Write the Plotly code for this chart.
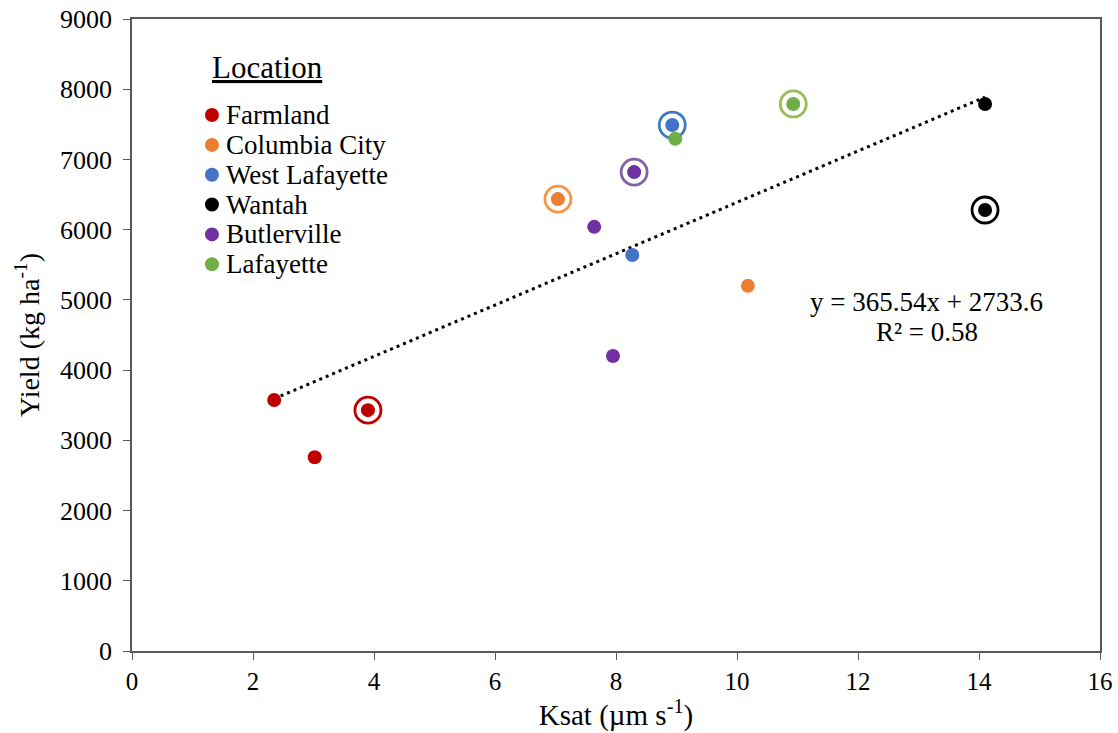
import plotly.graph_objects as go

# Ksat (µm s-1) and yield (kg ha-1) by location
locations = ["Farmland", "Columbia City", "West Lafayette", "Wantah", "Butlerville", "Lafayette"]
ksat = {
    "Farmland": [2.35, 3.02, 3.90],
    "Columbia City": [7.04, 10.18],
    "West Lafayette": [8.93, 8.27],
    "Wantah": [14.10, 14.10],
    "Butlerville": [8.30, 7.64, 7.95],
    "Lafayette": [10.93, 8.98],
}
yield_kg = {
    "Farmland": [3575, 2760, 3430],
    "Columbia City": [6435, 5200],
    "West Lafayette": [7490, 5640],
    "Wantah": [7790, 6280],
    "Butlerville": [6820, 6040, 4200],
    "Lafayette": [7790, 7295],
}
# index of the circled (highlighted) point within each location
highlight_idx = {
    "Farmland": 2,
    "Columbia City": 0,
    "West Lafayette": 0,
    "Wantah": 1,
    "Butlerville": 0,
    "Lafayette": 0,
}
dot_colors = {
    "Farmland": "#C00000",
    "Columbia City": "#ED7D31",
    "West Lafayette": "#4472C4",
    "Wantah": "#000000",
    "Butlerville": "#7030A0",
    "Lafayette": "#70AD47",
}
ring_colors = {
    "Farmland": "#C00000",
    "Columbia City": "#F79646",
    "West Lafayette": "#3E7BC4",
    "Wantah": "#000000",
    "Butlerville": "#8064A2",
    "Lafayette": "#9BBB59",
}

# linear fit reported on the chart
slope, intercept, r2 = 365.54, 2733.6, 0.58

FONT = "Liberation Serif"

fig = go.Figure()

# dotted trend line over the observed Ksat range
all_x = [v for loc in locations for v in ksat[loc]]
x_lo, x_hi = min(all_x), max(all_x)
fig.add_trace(go.Scatter(
    x=[x_lo, x_hi],
    y=[slope * x_lo + intercept, slope * x_hi + intercept],
    mode="lines",
    line=dict(color="#000000", width=3, dash="3px,4px"),
    showlegend=False, hoverinfo="skip",
))

# rings around the highlighted sample of each location
for loc in locations:
    i = highlight_idx[loc]
    fig.add_trace(go.Scatter(
        x=[ksat[loc][i]], y=[yield_kg[loc][i]],
        mode="markers",
        marker=dict(symbol="circle-open", size=26, color=ring_colors[loc],
                    line=dict(width=2.8, color=ring_colors[loc])),
        showlegend=False, hoverinfo="skip",
    ))

for loc in locations:
    fig.add_trace(go.Scatter(
        x=ksat[loc], y=yield_kg[loc],
        mode="markers", name=loc,
        marker=dict(size=14, color=dot_colors[loc]),
        showlegend=False,
    ))

# legend block: title, coloured dots and labels (paper coordinates)
leg_x_dot, leg_x_text = 0.0826, 0.0955
leg_top, leg_step = 0.848, 0.0472
fig.add_annotation(
    x=0.1395, y=0.9225, xref="paper", yref="paper",
    text="<u>Location</u>", showarrow=False, xanchor="center", yanchor="middle",
    font=dict(family=FONT, size=31, color="#000000"),
)
shapes = []
for k, loc in enumerate(locations):
    yk = leg_top - k * leg_step
    shapes.append(dict(
        type="circle", xref="paper", yref="paper",
        xsizemode="pixel", ysizemode="pixel",
        xanchor=leg_x_dot, yanchor=yk,
        x0=-7, x1=7, y0=-7, y1=7,
        fillcolor=dot_colors[loc], line=dict(width=0),
    ))
    fig.add_annotation(
        x=leg_x_text, y=yk, xref="paper", yref="paper",
        text=loc, showarrow=False, xanchor="left", yanchor="middle",
        font=dict(family=FONT, size=27, color="#000000"),
    )

# regression equation
fig.add_annotation(
    x=0.821, y=0.5522, xref="paper", yref="paper",
    text=f"y = {slope}x + {intercept}", showarrow=False,
    xanchor="center", yanchor="middle",
    font=dict(family=FONT, size=27, color="#000000"),
)
fig.add_annotation(
    x=0.821, y=0.5047, xref="paper", yref="paper",
    text=f"R² = {r2}", showarrow=False,
    xanchor="center", yanchor="middle",
    font=dict(family=FONT, size=27, color="#000000"),
)

axis_common = dict(
    showgrid=False, zeroline=False, automargin=False,
    showline=True, linecolor="#595959", linewidth=1.5, mirror=True,
    ticks="outside", ticklen=7, tickcolor="#595959", tickwidth=1.2,
)

fig.update_layout(
    width=1118, height=733,
    margin=dict(l=132, r=18, t=19, b=82),
    paper_bgcolor="white", plot_bgcolor="white",
    font=dict(family=FONT, color="#000000"),
    shapes=shapes,
    xaxis=dict(range=[0, 16], dtick=2,
               tickfont=dict(family=FONT, size=25, color="#000000"),
               title=dict(text="Ksat (µm s<sup>-1</sup>)", standoff=4,
                          font=dict(family=FONT, size=29)),
               **axis_common),
    yaxis=dict(range=[0, 9000], dtick=1000, ticklabelstandoff=6,
               tickfont=dict(family=FONT, size=26, color="#000000"),
               title=dict(text="Yield (kg ha<sup>-1</sup>)", standoff=12,
                          font=dict(family=FONT, size=28)),
               **axis_common),
    showlegend=False,
)

fig.write_html("out.html")
